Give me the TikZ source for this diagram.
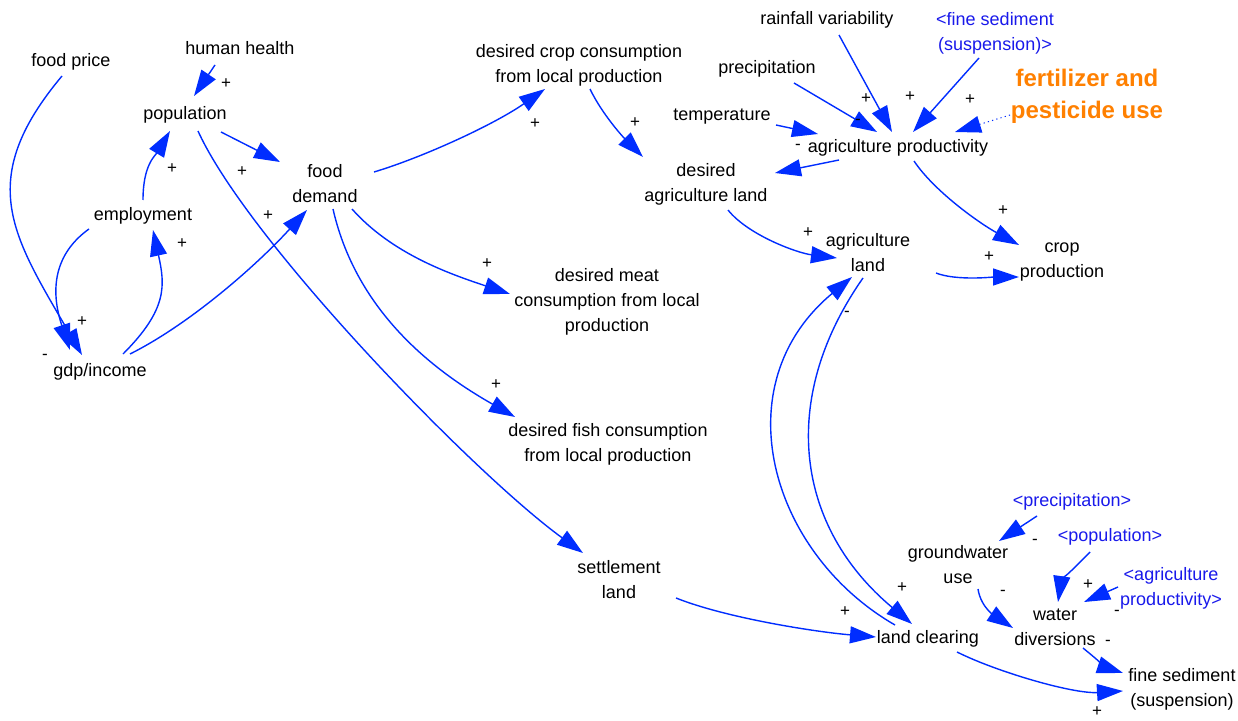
\documentclass[tikz,border=0pt]{standalone}
\usepackage{fontspec}
\setmainfont{Liberation Sans}
\usetikzlibrary{arrows.meta,calc}
\definecolor{linkblue}{RGB}{0,45,255}
\definecolor{ghostblue}{RGB}{25,25,235}
\definecolor{accent}{RGB}{255,128,0}
\tikzset{
  var/.style={align=center,inner sep=0pt,font=\fontsize{18bp}{25bp}\selectfont,text=black},
  ghost/.style={var,text=ghostblue},
  polarity/.style={inner sep=0pt,font=\fontsize{17bp}{17bp}\selectfont},
  link/.style={draw=linkblue,line width=1.4bp,-{Triangle[length=26bp,width=17bp]}},
}
\begin{document}
\begin{tikzpicture}[x=1bp,y=1bp]
\fill[white] (0,0) rectangle (1238,-721);
\useasboundingbox (0,0) rectangle (1238,-721);

% variables
\node[var] (foodprice) at (71,-62) {food price};
\node[var] (health)    at (240,-48) {human health};
\node[var] (pop)       at (185,-115) {population};
\node[var] (emp)       at (143,-216) {employment};
\node[var] (gdp)       at (100,-372) {gdp/income};
\node[var] (demand)    at (325,-184) {food\\demand};
\node[var] (cropc)     at (579,-65) {desired crop consumption\\from local production};
\node[var] (dland)     at (706,-184) {desired\\agriculture land};
\node[var] (meat)      at (607,-302) {desired meat\\consumption from local\\production};
\node[var] (fish)      at (608,-444) {desired fish consumption\\from local production};
\node[var] (settle)    at (619,-580) {settlement\\land};
\node[var] (rain)      at (827,-20) {rainfall variability};
\node[ghost] (fsedS)   at (995,-33) {<fine sediment\\(suspension)>};
\node[var] (precip)    at (767,-69) {precipitation};
\node[var] (temp)      at (722,-117) {temperature};
\node[align=center,inner sep=0pt,text=accent,font=\fontsize{24bp}{32bp}\selectfont\bfseries]
      (fert) at (1087,-96) {fertilizer and\\pesticide use};
\node[var] (prod)      at (898,-148) {agriculture productivity};
\node[var] (aland)     at (868,-253) {agriculture\\land};
\node[var] (cropprod)  at (1062,-262) {crop\\production};
\node[var] (gw)        at (958,-565) {groundwater\\use};
\node[ghost] (precipS) at (1072,-502) {<precipitation>};
\node[ghost] (popS)    at (1110,-537) {<population>};
\node[ghost] (prodS)   at (1171,-588) {<agriculture\\productivity>};
\node[var] (wd)        at (1055,-627) {water\\diversions};
\node[var] (clear)     at (928,-639) {land clearing};
\node[var] (fsed)      at (1182,-689) {fine sediment\\(suspension)};

% causal links
\draw[link] ($(foodprice)+(-9,-14)$) .. controls +(-88,-105) and +(-69,119) .. ($(gdp)+(-18,17)$);
\draw[link] ($(health)+(-25,-17)$) -- ($(pop)+(9,19)$);
\draw[link] ($(emp)+(-54,-13)$) .. controls +(-35,-25) and +(-20,60) .. ($(gdp)+(-30,22)$);
\draw[link] ($(gdp)+(23,18)$) .. controls +(45,45) and +(12,-55) .. ($(emp)+(10,-14)$);
\draw[link] ($(emp)+(0,16)$) .. controls +(0,35) and +(-15,-25) .. ($(pop)+(-15,-16)$);
\draw[link] ($(pop)+(36,-17)$) -- ($(demand)+(-45,22)$);
\draw[link] ($(pop)+(13,-16)$) .. controls +(50,-110) and +(-110,80) .. ($(settle)+(-36,27)$);
\draw[link] ($(gdp)+(30,18)$) .. controls +(60,30) and +(-50,-55) .. ($(demand)+(-18,-26)$);
\draw[link] ($(demand)+(49,12)$) .. controls +(50,15) and +(-50,-35) .. ($(cropc)+(-34,-24)$);
\draw[link] ($(demand)+(27,-25)$) .. controls +(40,-45) and +(-60,20) .. ($(meat)+(-97,8)$);
\draw[link] ($(demand)+(8,-25)$) .. controls +(25,-110) and +(-70,40) .. ($(fish)+(-93,27)$);
\draw[link] ($(cropc)+(11,-24)$) .. controls +(12,-25) and +(-20,20) .. ($(dland)+(-63,27)$);
\draw[link] ($(prod)+(-59,-12)$) -- ($(dland)+(69,11)$);
\draw[link] ($(temp)+(54,-8)$) -- ($(prod)+(-80,14)$);
\draw[link] ($(precip)+(27,-14)$) -- ($(prod)+(-21,16)$);
\draw[link] ($(rain)+(12,-15)$) -- ($(prod)+(-6,16)$);
\draw[link] ($(fsedS)+(-16,-25)$) -- ($(prod)+(15,16)$);
\draw[link,line width=1bp,dash pattern=on 1.2bp off 3.2bp] ($(fert)+(-77,-19)$) -- ($(prod)+(57,16)$);
\draw[link] ($(prod)+(16,-13)$) .. controls +(20,-30) and +(-40,22) .. ($(cropprod)+(-43,17)$);
\draw[link] ($(dland)+(22,-26)$) .. controls +(20,-25) and +(-40,5) .. ($(aland)+(-31,-5)$);
\draw[link] ($(aland)+(68,-20)$) .. controls +(20,-8) and +(-25,0) .. ($(cropprod)+(-43,-15)$);
\draw[link] ($(clear)+(-33,14)$) .. controls +(-125,72) and +(-130,-108) .. ($(aland)+(-16,-24)$);
\draw[link] ($(aland)+(-5,-25)$) .. controls +(-86,-123) and +(-115,96) .. ($(clear)+(-16,15)$);
\draw[link] ($(settle)+(57,-18)$) .. controls +(50,-20) and +(-60,5) .. ($(clear)+(-52,2)$);
\draw[link] ($(clear)+(29,-13)$) .. controls +(40,-20) and +(-50,-3) .. ($(fsed)+(-59,-2)$);
\draw[link] ($(wd)+(28,-21)$) .. controls +(12,-10) and +(-15,5) .. ($(fsed)+(-59,16)$);
\draw[link] ($(gw)+(20,-24)$) .. controls +(3,-20) and +(-15,10) .. ($(wd)+(-42,-1)$);
\draw[link] ($(precipS)+(-35,-14)$) -- ($(gw)+(41,24)$);
\draw[link] ($(popS)+(-20,-15)$) .. controls +(-15,-15) and +(3,20) .. ($(wd)+(3,25)$);
\draw[link] ($(prodS)+(-53,1)$) -- ($(wd)+(29,25)$);

% link polarities
\node[polarity] (p1)  at (45,-357) {-};
\node[polarity] (p2)  at (82,-322) {+};
\node[polarity] (p3)  at (226,-84) {+};
\node[polarity] (p4)  at (172,-169) {+};
\node[polarity] (p5)  at (242,-172) {+};
\node[polarity] (p6)  at (268,-216) {+};
\node[polarity] (p7)  at (182,-244) {+};
\node[polarity] (p8)  at (535,-124) {+};
\node[polarity] (p9)  at (635,-123) {+};
\node[polarity] (p10) at (487,-264) {+};
\node[polarity] (p11) at (496,-385) {+};
\node[polarity] (p12) at (798,-147) {-};
\node[polarity] (p13) at (858,-122) {-};
\node[polarity] (p14) at (866,-99) {+};
\node[polarity] (p15) at (910,-97) {+};
\node[polarity] (p16) at (970,-100) {+};
\node[polarity] (p17) at (1003,-211) {+};
\node[polarity] (p18) at (808,-233) {+};
\node[polarity] (p19) at (989,-257) {+};
\node[polarity] (p20) at (847,-314) {-};
\node[polarity] (p21) at (902,-588) {+};
\node[polarity] (p22) at (845,-612) {+};
\node[polarity] (p23) at (1097,-712) {+};
\node[polarity] (p24) at (1108,-643) {-};
\node[polarity] (p25) at (1003,-593) {-};
\node[polarity] (p26) at (1035,-542) {-};
\node[polarity] (p27) at (1088,-585) {+};
\node[polarity] (p28) at (1117,-613) {-};
\end{tikzpicture}
\end{document}
